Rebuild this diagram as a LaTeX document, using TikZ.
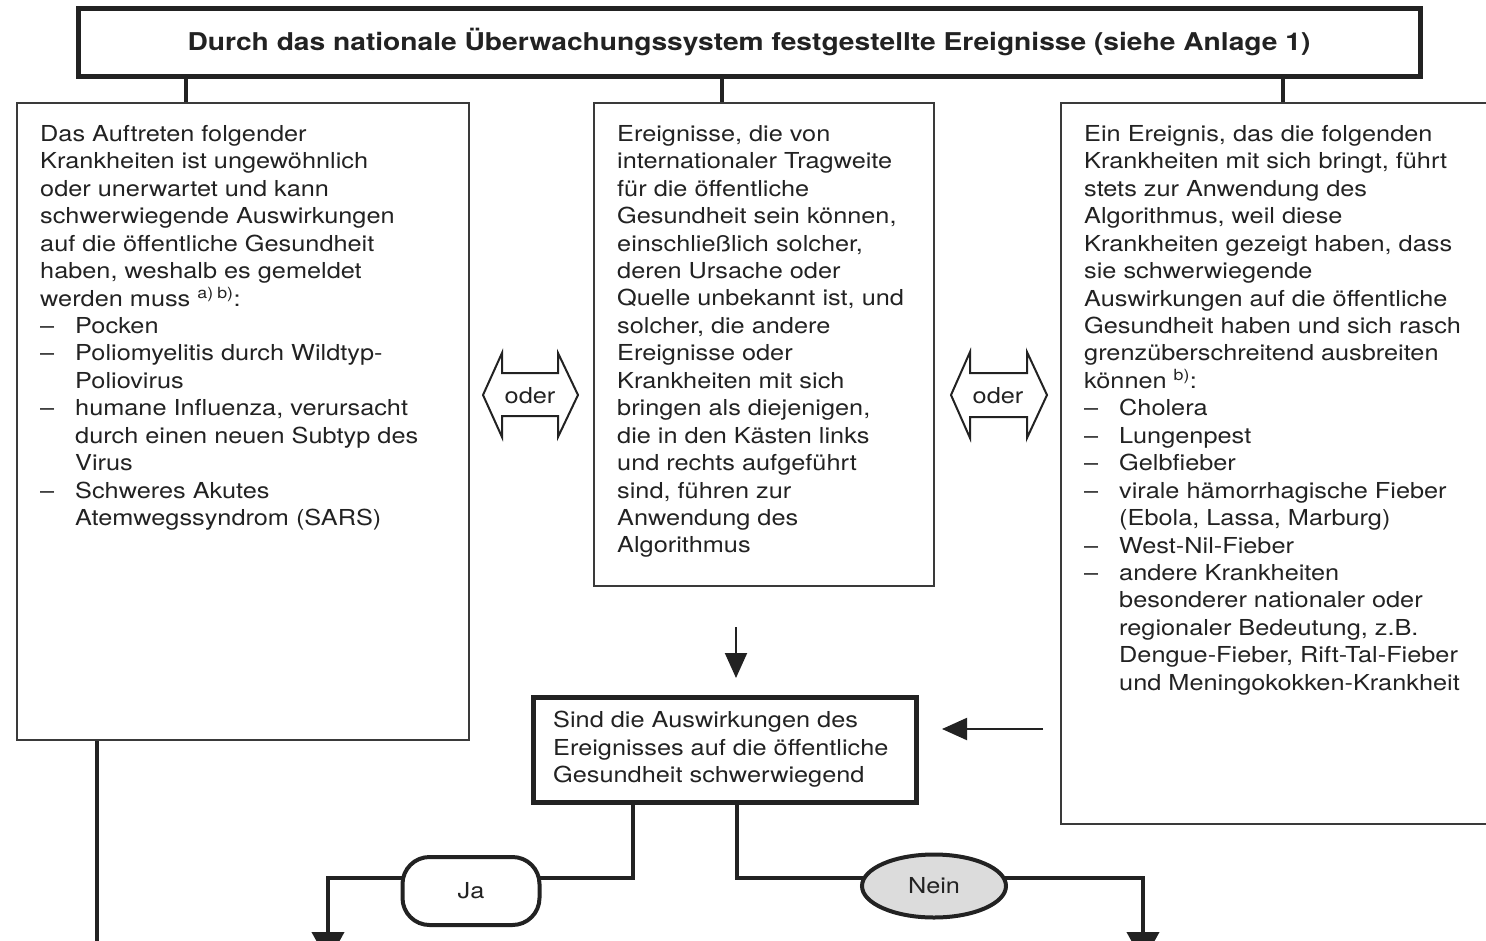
\documentclass[tikz,border=0pt]{standalone}
\usepackage{fontspec}
\setmainfont{TeX Gyre Heros}[FakeStretch=1.15]
\usetikzlibrary{arrows.meta,shapes.geometric,backgrounds}
\definecolor{ink}{HTML}{222222}
\definecolor{boxline}{HTML}{3a3a3a}
\definecolor{neinfill}{HTML}{DCDCDC}
\newcommand{\dashitem}{\makebox[35pt][l]{–}}
\newcommand{\contind}{\hspace*{35pt}}
\begin{document}
\begin{tikzpicture}[x=1pt,y=-1pt,
  txt/.style={anchor=north west,inner sep=0pt,align=left,font=\fontsize{22}{27.45}\selectfont,text=ink},
  thinbox/.style={draw=boxline,line width=2pt,anchor=north west,inner sep=0pt},
  thickbox/.style={draw=ink,line width=5pt,inner sep=0pt},
  conn/.style={draw=ink,line width=3.5pt},
  arr/.style={draw=ink,line width=2pt,-{Triangle[length=25pt,width=22pt]}},
  bigarr/.style={draw=ink,line width=4pt,-{Triangle[length=30pt,width=32pt]}},
  oderarrow/.style={draw=ink,line width=2pt,fill=white,line join=miter},
  odertxt/.style={inner sep=0pt,font=\fontsize{22}{26}\selectfont,text=ink}
]
\useasboundingbox (0,0) rectangle (1486,940);
\clip (0,0) rectangle (1486,940);

% top box
\node[thickbox,minimum width=1342pt,minimum height=68pt] (top) at (749,42)
  {\fontsize{24.5}{28}\selectfont\bfseries\color{ink}Durch das nationale Überwachungssystem festgestellte Ereignisse (siehe Anlage 1)};

% three boxes
\node[thinbox,minimum width=452pt,minimum height=637pt] (L) at (16,102) {};
\node[thinbox,minimum width=340pt,minimum height=483pt] (M) at (593,102) {};
\node[thinbox,minimum width=440pt,minimum height=721pt] (R) at (1060,102) {};

\node[txt] (Ltxt) at (40,125) {Das Auftreten folgender\\
Krankheiten ist ungewöhnlich\\
oder unerwartet und kann\\
schwerwiegende Auswirkungen\\
auf die öffentliche Gesundheit\\
haben, weshalb es gemeldet\\
werden muss \textsuperscript{a)}\,\textsuperscript{b)}:\\
\dashitem Pocken\\
\dashitem Poliomyelitis durch Wildtyp-\\
\contind Poliovirus\\
\dashitem humane Influenza, verursacht\\
\contind durch einen neuen Subtyp des\\
\contind Virus\\
\dashitem Schweres Akutes\\
\contind Atemwegssyndrom (SARS)};

\node[txt] (Mtxt) at (617,125) {Ereignisse, die von\\
internationaler Tragweite\\
für die öffentliche\\
Gesundheit sein können,\\
einschließlich solcher,\\
deren Ursache oder\\
Quelle unbekannt ist, und\\
solcher, die andere\\
Ereignisse oder\\
Krankheiten mit sich\\
bringen als diejenigen,\\
die in den Kästen links\\
und rechts aufgeführt\\
sind, führen zur\\
Anwendung des\\
Algorithmus};

\node[txt] (Rtxt) at (1084,125) {Ein Ereignis, das die folgenden\\
Krankheiten mit sich bringt, führt\\
stets zur Anwendung des\\
Algorithmus, weil diese\\
Krankheiten gezeigt haben, dass\\
sie schwerwiegende\\
Auswirkungen auf die öffentliche\\
Gesundheit haben und sich rasch\\
grenzüberschreitend ausbreiten\\
können \textsuperscript{b)}:\\
\dashitem Cholera\\
\dashitem Lungenpest\\
\dashitem Gelbfieber\\
\dashitem virale hämorrhagische Fieber\\
\contind (Ebola, Lassa, Marburg)\\
\dashitem West-Nil-Fieber\\
\dashitem andere Krankheiten\\
\contind besonderer nationaler oder\\
\contind regionaler Bedeutung, z.B.\\
\contind Dengue-Fieber, Rift-Tal-Fieber\\
\contind und Meningokokken-Krankheit};

% oder double arrows
\draw[oderarrow] (483,395) -- (502,353) -- (502,373) -- (558,373) -- (558,353) -- (578,395)
  -- (558,437) -- (558,416) -- (502,416) -- (502,437) -- cycle;
\node[odertxt] (oder1) at (530,396) {oder};
\draw[oderarrow] (951,395) -- (970,352) -- (970,373) -- (1027,373) -- (1027,352) -- (1047,395)
  -- (1027,438) -- (1027,417) -- (970,417) -- (970,438) -- cycle;
\node[odertxt] (oder2) at (998,396) {oder};

% decision box
\node[thickbox,anchor=north west,minimum width=383pt,minimum height=105pt] (D) at (531,695) {};
\node[txt] (Dtxt) at (553,711) {Sind die Auswirkungen des\\
Ereignisses auf die öffentliche\\
Gesundheit schwerwiegend};

% Ja / Nein
\node[draw=ink,line width=4pt,fill=white,rounded corners=27pt,minimum width=137pt,minimum height=68pt,
  inner sep=0pt,font=\fontsize{22}{26}\selectfont,text=ink] (Ja) at (471,891) {Ja};
\node[ellipse,draw=ink,line width=4pt,fill=neinfill,minimum width=144pt,minimum height=63pt,
  inner sep=0pt,font=\fontsize{22}{26}\selectfont,text=ink] (Nein) at (934,886) {Nein};

% coordinates
\coordinate (c1) at (186,0);
\coordinate (c2) at (722,0);
\coordinate (c3) at (1283,0);
\coordinate (lv) at (97,945);
\coordinate (ja) at (633,878);
\coordinate (ne) at (737,878);
\coordinate (jaend) at (328,962);
\coordinate (neend) at (1143,962);
\coordinate (dnA) at (736,627);
\coordinate (dnB) at (736,678);
\coordinate (lfA) at (1043,729);
\coordinate (lfB) at (942,729);

\begin{pgfonlayer}{background}
\draw[conn] (c1 |- top.south) -- (c1 |- L.north);
\draw[conn] (c2 |- top.south) -- (c2 |- M.north);
\draw[conn] (c3 |- top.south) -- (c3 |- R.north);
\draw[conn] (lv |- L.south) -- (lv);
\draw[conn] (ja |- D.south) -- (ja) -- (Ja.center |- ja);
\draw[conn] (ne |- D.south) -- (ne) -- (Nein.center |- ne);
\draw[conn] (Ja.center |- ja) -- (jaend |- ja) -- (jaend);
\draw[conn] (Nein.center |- ne) -- (neend |- ne) -- (neend);
\end{pgfonlayer}
\draw[bigarr] (jaend |- ja) -- (jaend);
\draw[bigarr] (neend |- ne) -- (neend);
\draw[arr] (dnA) -- (dnB);
\draw[arr] (lfA) -- (lfB);
\end{tikzpicture}
\end{document}
